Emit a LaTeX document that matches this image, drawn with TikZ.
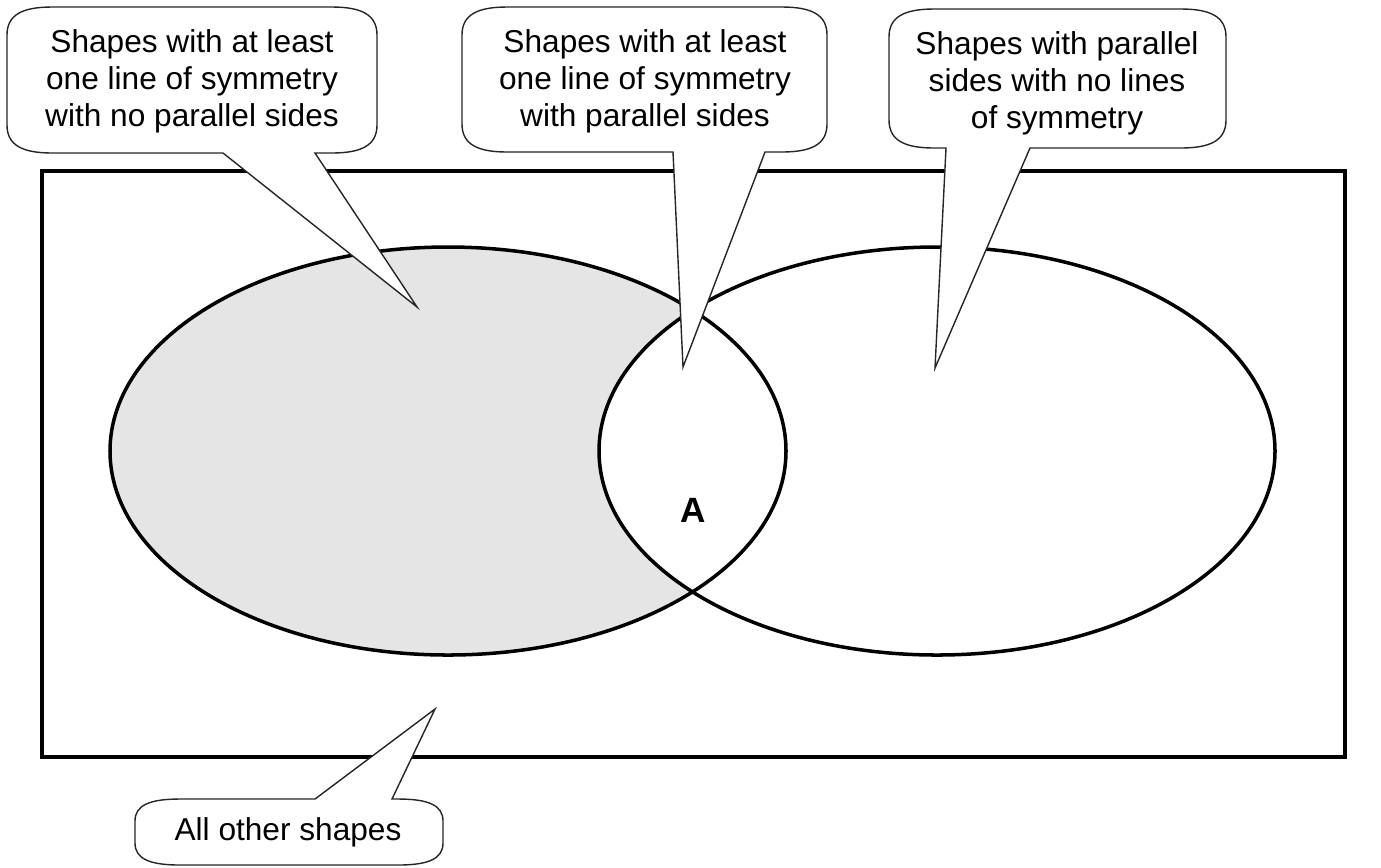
\documentclass[tikz,border=0pt]{standalone}
\usepackage{fontspec}
\setmainfont{Liberation Sans}
\usetikzlibrary{positioning}

% speech bubbles: left, top, right, bottom, pointer base left, pointer base right, tip
\newcommand{\speechbubble}[7]{%
  \draw[bubble] (#1,#2+28) .. controls (#1,#2+8) and (#1+15,#2) .. (#1+45,#2)
    -- (#3-45,#2) .. controls (#3-15,#2) and (#3,#2+8) .. (#3,#2+28)
    -- (#3,#4-28) .. controls (#3,#4-8) and (#3-15,#4) .. (#3-45,#4)
    -- (#6,#4) -- (#7) -- (#5,#4)
    -- (#1+45,#4) .. controls (#1+15,#4) and (#1,#4-8) .. (#1,#4-28) -- cycle;}
\newcommand{\speechbubbleup}[7]{%
  \draw[bubble] (#1,#2+22) .. controls (#1,#2+6) and (#1+15,#2) .. (#1+45,#2)
    -- (#5,#2) -- (#7) -- (#6,#2)
    -- (#3-45,#2) .. controls (#3-15,#2) and (#3,#2+6) .. (#3,#2+22)
    -- (#3,#4-22) .. controls (#3,#4-6) and (#3-15,#4) .. (#3-45,#4)
    -- (#1+45,#4) .. controls (#1+15,#4) and (#1,#4-6) .. (#1,#4-22) -- cycle;}

\begin{document}
\begin{tikzpicture}[x=0.02cm, y=-0.02cm,
  bubble/.style={draw=black!85, line width=0.8pt, fill=white, line join=miter},
  label/.style={align=center, inner sep=0pt, font=\fontsize{18}{21}\selectfont},
  venn/.style={line width=2pt}]
\useasboundingbox (0,0) rectangle (1381,867);

% universal set and the two sets
\draw[venn] (42,171) rectangle (1345,757);
\fill[black!10] (448,451) ellipse [x radius=338, y radius=204];
\fill[white] (937,451) ellipse [x radius=338, y radius=204];
\draw[venn] (448,451) ellipse [x radius=338, y radius=204];
\draw[venn] (937,451) ellipse [x radius=338, y radius=204];

\node[label, font=\fontsize{20}{24}\selectfont\bfseries] (regionA) at (693,510) {A};

% pointer tips
\coordinate (tip1) at (417,307);
\coordinate (tip2) at (683,367);
\coordinate (tip3) at (935,368);
\coordinate (tip4) at (435,709);

\speechbubble{7}{7}{377}{153}{223}{315}{tip1}
\speechbubble{462}{7}{827}{152}{673}{765}{tip2}
\speechbubble{889}{9}{1226}{148}{946}{1030}{tip3}
\speechbubbleup{135}{799}{443}{865}{315}{392}{tip4}

\node[label] (symnopar) at (192,81) {Shapes with at least\\one line of symmetry\\with no parallel sides};
\node[label] (sympar) at (645,81) {Shapes with at least\\one line of symmetry\\with parallel sides};
\node[label] (parnosym) at (1057,83) {Shapes with parallel\\sides with no lines\\of symmetry};
\node[label] (other) at (288,832) {All other shapes};
\end{tikzpicture}
\end{document}
